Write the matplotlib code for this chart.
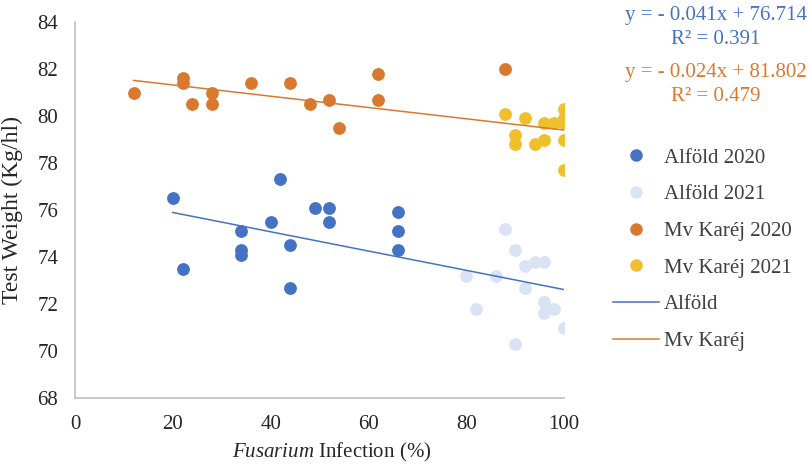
import numpy as np
import matplotlib
matplotlib.use('Agg')
import matplotlib.pyplot as plt
from matplotlib.lines import Line2D

plt.rcParams['font.family'] = ['Liberation Serif', 'DejaVu Serif']
plt.rcParams['mathtext.fontset'] = 'custom'
plt.rcParams['mathtext.rm'] = 'Liberation Serif'
plt.rcParams['mathtext.it'] = 'Liberation Serif:italic'

# Alföld
alfold20_x = [20, 22, 34, 34, 34, 40, 42, 44, 44, 49, 52, 52, 66, 66, 66]
alfold20_y = [76.5, 73.5, 75.1, 74.3, 74.1, 75.5, 77.3, 74.5, 72.7, 76.1, 76.1, 75.5, 75.9, 75.1, 74.3]
alfold21_x = [80, 82, 86, 88, 90, 90, 92, 92, 94, 96, 96, 96, 98, 100]
alfold21_y = [73.2, 71.8, 73.2, 75.2, 74.3, 70.3, 73.6, 72.7, 73.8, 73.8, 72.1, 71.6, 71.8, 71.0]

# Mv Karéj
karej20_x = [12, 22, 22, 24, 28, 28, 36, 44, 48, 52, 54, 62, 62, 88]
karej20_y = [81.0, 81.6, 81.4, 80.5, 81.0, 80.5, 81.4, 81.4, 80.5, 80.7, 79.5, 81.8, 80.7, 82.0]
karej21_x = [88, 90, 90, 92, 94, 96, 96, 98, 100, 100, 100, 100, 100]
karej21_y = [80.1, 79.2, 78.8, 79.9, 78.8, 79.7, 79.0, 79.7, 80.3, 79.9, 79.7, 79.0, 77.7]

# trend lines as reported on the chart
alfold_fit = (-0.041, 76.714, 0.391)
karej_fit = (-0.024, 81.802, 0.479)

c_blue = '#4472C4'
c_lblue = '#DAE3F3'
c_orange = '#D9792F'
c_yellow = '#F0BF2C'

fig = plt.figure(figsize=(8.08, 4.69), dpi=100)
ax = fig.add_axes([75/808, 1-398/469, (564-75)/808, (398-22)/469])

ms = 85
ax.scatter(alfold20_x, alfold20_y, s=ms, color=c_blue, zorder=3, linewidths=0)
ax.scatter(alfold21_x, alfold21_y, s=ms, color=c_lblue, zorder=3, linewidths=0)
ax.scatter(karej20_x, karej20_y, s=ms, color=c_orange, zorder=3, linewidths=0)
ax.scatter(karej21_x, karej21_y, s=ms, color=c_yellow, zorder=3, linewidths=0)

xa = np.array([min(alfold20_x + alfold21_x), max(alfold20_x + alfold21_x)])
xk = np.array([min(karej20_x + karej21_x), max(karej20_x + karej21_x)])
ax.plot(xa, alfold_fit[0]*xa + alfold_fit[1], color=c_blue, lw=1.1, zorder=4)
ax.plot(xk, karej_fit[0]*xk + karej_fit[1], color=c_orange, lw=1.1, zorder=4)

ax.set_xlim(0, 100)
ax.set_ylim(68, 84)
ax.set_xticks(np.arange(0, 101, 20))
ax.set_yticks(np.arange(68, 85, 2))
ax.tick_params(length=0, labelsize=15, colors='#262626', pad=12)
for s in ['top', 'right']:
    ax.spines[s].set_visible(False)
for s in ['left', 'bottom']:
    ax.spines[s].set_color('#BFBFBF')
    ax.spines[s].set_linewidth(1.2)

ax.set_xlabel(r'$\mathit{Fusarium}$ Infection (%)', fontsize=15, color='#262626')
ax.xaxis.set_label_coords(0.525, -0.113)
ax.set_ylabel('Test Weight (Kg/hl)', fontsize=17, color='#262626', labelpad=10)

fig.text(716/808, 1-6/469, 'y = - 0.041x + 76.714\nR² = 0.391', color=c_blue, fontsize=15,
         ha='center', va='top', linespacing=1.38)
fig.text(716/808, 1-63/469, 'y = - 0.024x + 81.802\nR² = 0.479', color=c_orange, fontsize=15,
         ha='center', va='top', linespacing=1.38)

handles = [
    Line2D([], [], ls='', marker='o', ms=8, color=c_blue),
    Line2D([], [], ls='', marker='o', ms=8, color=c_lblue),
    Line2D([], [], ls='', marker='o', ms=8, color=c_orange),
    Line2D([], [], ls='', marker='o', ms=8, color=c_yellow),
    Line2D([], [], color=c_blue, lw=1.1),
    Line2D([], [], color=c_orange, lw=1.1),
]
labels = ['Alföld 2020', 'Alföld 2021', 'Mv Karéj 2020', 'Mv Karéj 2021', 'Alföld', 'Mv Karéj']
leg = fig.legend(handles, labels, loc='upper left', bbox_to_anchor=(613/808, 1-148/469),
                 frameon=False, fontsize=15, borderpad=0, borderaxespad=0,
                 handlelength=2.2, handletextpad=0.25, labelspacing=0.82)
for t in leg.get_texts():
    t.set_color('#404040')

fig.savefig('out.png', dpi=100)
